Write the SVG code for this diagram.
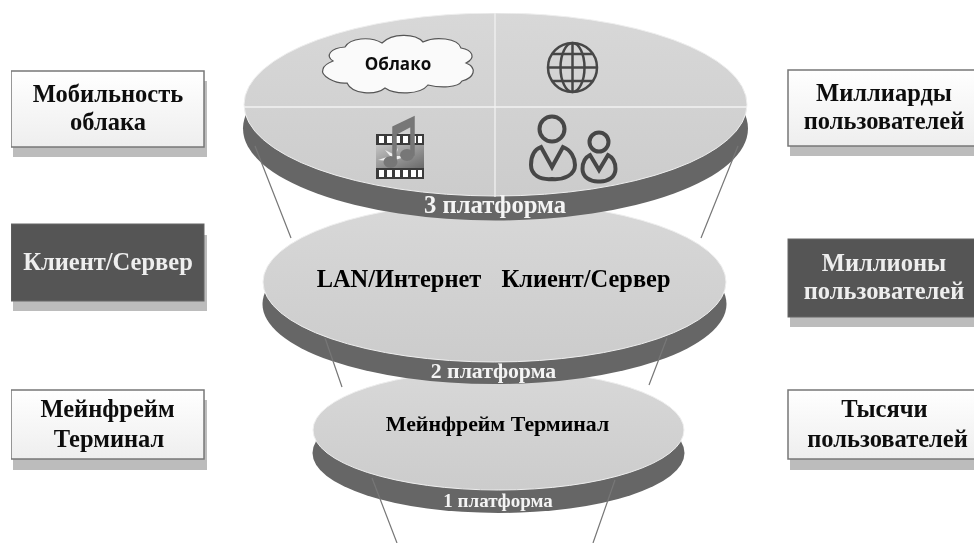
<svg xmlns="http://www.w3.org/2000/svg" width="974" height="543" viewBox="0 0 974 543">
<defs>
<linearGradient id="disk" x1="0" y1="0" x2="0" y2="1"><stop offset="0" stop-color="#d8d8d8"/><stop offset="1" stop-color="#cccccc"/></linearGradient>
<linearGradient id="lightbox" x1="0" y1="0" x2="0" y2="1"><stop offset="0" stop-color="#ffffff"/><stop offset="1" stop-color="#eeeeee"/></linearGradient>
<linearGradient id="film" x1="0" y1="0" x2="1" y2="1"><stop offset="0" stop-color="#c4c4c4"/><stop offset="1" stop-color="#6a6a6a"/></linearGradient>
<filter id="soft" x="0" y="0" width="100%" height="100%"><feGaussianBlur stdDeviation="0.45"/></filter>
</defs>
<style>
.t{font-family:"Liberation Serif","DejaVu Serif",serif;font-weight:700;text-anchor:middle}
.box{font-size:24.500px;fill:#111}
.boxw{font-size:24.500px;fill:#eee}
.plat{fill:#f4f4f4}
.light{fill:url(#lightbox);stroke:#777;stroke-width:1.5}
.dark{fill:#555;stroke:#666;stroke-width:1}
.shadow{fill:#bcbcbc}
.under{fill:#666}
.top{fill:url(#disk);stroke:#eee;stroke-width:1}
.ic{fill:none;stroke:#474747;stroke-width:4}
.conn{stroke:#777;stroke-width:1.2;fill:none}
.wl{stroke:#f2f2f2;stroke-width:1.3}
</style>
<rect width="974" height="543" fill="#fff"/>
<g filter="url(#soft)">
<g id="disk-1">
<ellipse class="under" cx="498.500" cy="453" rx="186" ry="60"/>
<ellipse class="top" cx="498.500" cy="430" rx="185.500" ry="60"/>
<text class="t" x="497.500" y="431" font-size="21.800">Мейнфрейм Терминал</text>
<text class="t plat" x="498" y="507" font-size="19">1 платформа</text>
</g>
<g id="disk-2">
<ellipse class="under" cx="494.500" cy="304" rx="232" ry="80"/>
<ellipse class="top" cx="494.500" cy="282" rx="231.500" ry="80"/>
<text class="t" x="399" y="287" font-size="24.400">LAN/Интернет</text>
<text class="t" x="586" y="287" font-size="24.400">Клиент/Сервер</text>
<text class="t plat" x="493.500" y="378" font-size="21.800">2 платформа</text>
</g>
<g id="disk-3">
<ellipse class="under" cx="495.500" cy="128.500" rx="252.500" ry="92"/>
<ellipse class="top" cx="495.500" cy="104.500" rx="251.500" ry="91.500"/>
<line class="wl" x1="244" y1="107" x2="747" y2="107"/>
<line class="wl" x1="495" y1="13" x2="495" y2="197"/>
<text class="t plat" x="495" y="212.500" font-size="24.700">3 платформа</text>
</g>
<g id="cloud">
<path d="M333 61C325 56 330 48 345 47C350 38 370 36 382 43C392 33 415 33 423 42C435 36 458 38 461 48C473 50 476 58 466 63C478 68 474 78 462 81C458 88 440 88 428 85C420 95 395 95 385 88C375 96 352 94 347 83C335 84 320 76 323 69C324 65 328 63 333 61Z" fill="#fafafa" stroke="#555" stroke-width="1.2"/>
<text x="398" y="70" font-family="'Open Sans','Noto Sans',sans-serif" font-weight="700" font-size="17" text-anchor="middle" fill="#111">Облако</text>
</g>
<g id="globe" class="ic" style="stroke-width:2.500">
<circle cx="572.500" cy="67.500" r="24.500"/>
<ellipse cx="572.500" cy="67.500" rx="12" ry="24.500"/>
<line x1="572.500" y1="43" x2="572.500" y2="92"/>
<line x1="548" y1="67.500" x2="597" y2="67.500"/>
<line x1="552" y1="54" x2="593" y2="54"/>
<line x1="552" y1="81" x2="593" y2="81"/>
</g>
<g id="media">
<rect x="376" y="134" width="48" height="45" fill="#3a3a3a"/>
<rect x="376" y="145" width="48" height="23" fill="url(#film)"/>
<g fill="#fff">
<rect x="379" y="136" width="5" height="7"/><rect x="387" y="136" width="5" height="7"/><rect x="395" y="136" width="5" height="7"/><rect x="403" y="136" width="5" height="7"/><rect x="411" y="136" width="5" height="7"/><rect x="418" y="136" width="4" height="7"/>
<rect x="379" y="170" width="5" height="7"/><rect x="387" y="170" width="5" height="7"/><rect x="395" y="170" width="5" height="7"/><rect x="403" y="170" width="5" height="7"/><rect x="411" y="170" width="5" height="7"/><rect x="418" y="170" width="4" height="7"/>
</g>
<path d="M378 160L390 156L385 150L393 154L398 148L396 156L408 156L395 160L390 168L389 161Z" fill="#eee"/>
<g fill="#777">
<ellipse cx="390.500" cy="162" rx="7" ry="6"/>
<ellipse cx="407" cy="155" rx="7" ry="6"/>
<path d="M393 162V127L414 117V155H411V126L396 134V162Z" stroke="#777" stroke-width="1.500"/>
</g>
</g>
<g id="users" class="ic">
<circle cx="552" cy="129" r="12.500"/>
<path d="M552 167L541 147C533 150 531 158 531 165C531 175 540 180 552 179C564 180 575 175 575 165C575 158 571 150 563 147Z"/>
<circle cx="599" cy="142" r="9.500"/>
<path d="M599 170L590 155C584 158 582.500 164 582.500 169C582.500 177 590 182 599 181.500C608 182 615.500 177 615.500 169C615.500 164 614 158 608 155Z"/>
</g>
<g id="connectors">
<path class="conn" d="M255 146L291 238M738 146L701 238M325 338L342 387M667 338L649 385M372 478L397 543M615 480L593 543"/>
</g>
<g id="box-mobility">
<rect class="shadow" x="13" y="81" width="194" height="76"/>
<rect class="light" x="11" y="71" width="193" height="76"/>
<text class="t box" x="108" y="101.500">Мобильность</text>
<text class="t box" x="108" y="130">облака</text>
</g>
<g id="box-client">
<rect class="shadow" x="13" y="235" width="194" height="76"/>
<rect class="dark" x="11" y="224" width="193" height="77"/>
<text class="t boxw" x="108" y="270">Клиент/Сервер</text>
</g>
<g id="box-mainframe">
<rect class="shadow" x="13" y="400" width="194" height="70"/>
<rect class="light" x="11" y="390" width="193" height="69"/>
<text class="t box" x="107.500" y="417">Мейнфрейм</text>
<text class="t box" x="109" y="447">Терминал</text>
</g>
<g id="box-billions">
<rect class="shadow" x="790" y="80" width="184" height="76"/>
<rect class="light" x="788" y="70" width="190" height="76"/>
<text class="t box" x="884" y="101">Миллиарды</text>
<text class="t box" x="884" y="129">пользователей</text>
</g>
<g id="box-millions">
<rect class="shadow" x="790" y="250" width="184" height="77"/>
<rect class="dark" x="788" y="239" width="190" height="78"/>
<text class="t boxw" x="884" y="271">Миллионы</text>
<text class="t boxw" x="884" y="299">пользователей</text>
</g>
<g id="box-thousands">
<rect class="shadow" x="790" y="400" width="184" height="70"/>
<rect class="light" x="788" y="390" width="190" height="69"/>
<text class="t box" x="884.500" y="417">Тысячи</text>
<text class="t box" x="887.500" y="447">пользователей</text>
</g>
</g>
</svg>
